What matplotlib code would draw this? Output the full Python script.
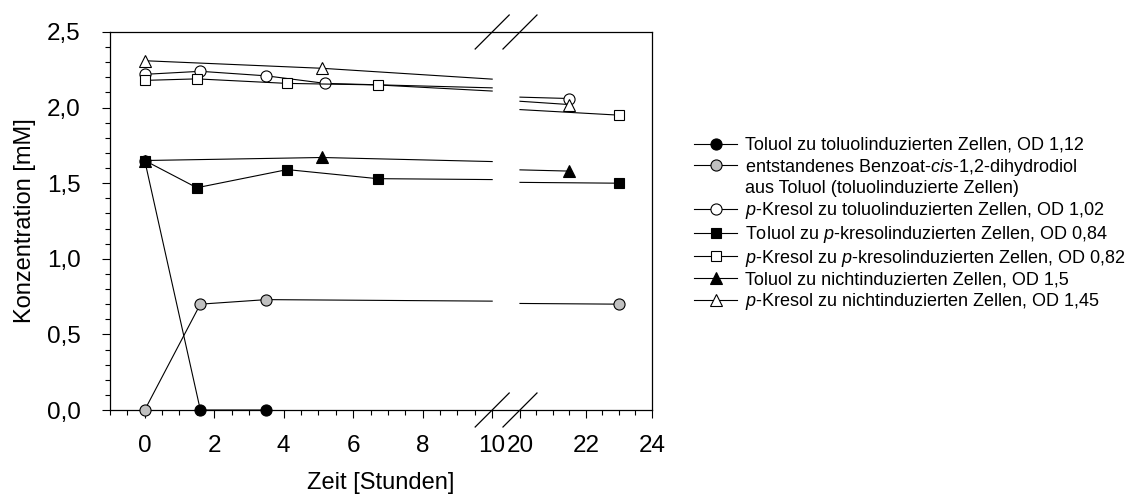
import numpy as np
import matplotlib
matplotlib.use("Agg")
import matplotlib.pyplot as plt
from matplotlib.lines import Line2D
from matplotlib.ticker import FixedLocator, FuncFormatter

plt.rcParams['font.family'] = ['Liberation Sans', 'DejaVu Sans']
plt.rcParams['mathtext.fontset'] = 'custom'
plt.rcParams['mathtext.it'] = 'Liberation Sans:italic'
plt.rcParams['mathtext.rm'] = 'Liberation Sans'

# Messwerte (Zeit in Stunden, Konzentration in mM)
t_tol_tol = [0, 1.6, 3.5]
c_tol_tol = [1.65, 0.0, 0.0]
t_benz = [0, 1.6, 3.5, 23]
c_benz = [0.0, 0.70, 0.73, 0.70]
t_kre_tol = [0, 1.6, 3.5, 5.2, 21.5]
c_kre_tol = [2.22, 2.24, 2.21, 2.16, 2.06]
t_tol_kre = [0, 1.5, 4.1, 6.7, 23]
c_tol_kre = [1.65, 1.47, 1.59, 1.53, 1.50]
t_kre_kre = [0, 1.5, 4.1, 6.7, 23]
c_kre_kre = [2.18, 2.19, 2.16, 2.15, 1.95]
t_tol_non = [0, 5.1, 21.5]
c_tol_non = [1.65, 1.67, 1.58]
t_kre_non = [0, 5.1, 21.5]
c_kre_non = [2.31, 2.26, 2.02]

labels = [
    'Toluol zu toluolinduzierten Zellen, OD 1,12',
    'entstandenes Benzoat-$\\it{cis}$-1,2-dihydrodiol',
    '$\\it{p}$-Kresol zu toluolinduzierten Zellen, OD 1,02',
    'Toluol zu $\\it{p}$-kresolinduzierten Zellen, OD 0,84',
    '$\\it{p}$-Kresol zu $\\it{p}$-kresolinduzierten Zellen, OD 0,82',
    'Toluol zu nichtinduzierten Zellen, OD 1,5',
    '$\\it{p}$-Kresol zu nichtinduzierten Zellen, OD 1,45',
]
label_line2 = 'aus Toluol (toluolinduzierte Zellen)'

x_major = [0, 2, 4, 6, 8, 10, 20, 22, 24]

# Achsenbruch zwischen 10 und 20 h
BRK_LO, BRK_HI = 10.0, 20.0
GAP = 0.8
K = 0.95


def fwd(x):
    x = np.asarray(x, float)
    return np.where(x <= BRK_LO, x,
                    np.where(x >= BRK_HI, BRK_LO + GAP + (x - BRK_HI) * K,
                             BRK_LO + (x - BRK_LO) * GAP / (BRK_HI - BRK_LO)))


def inv(y):
    y = np.asarray(y, float)
    return np.where(y <= BRK_LO, y,
                    np.where(y >= BRK_LO + GAP, BRK_HI + (y - BRK_LO - GAP) / K,
                             BRK_LO + (y - BRK_LO) * (BRK_HI - BRK_LO) / GAP))


def split_at_break(t, c):
    t = np.asarray(t, float)
    c = np.asarray(c, float)
    if t.max() <= BRK_LO:
        return t, c, list(range(len(t)))
    left = t <= BRK_LO
    n = int(left.sum())
    tt = np.concatenate([t[left], [BRK_LO, np.nan, BRK_HI], t[~left]])
    cc = np.concatenate([c[left], [np.interp(BRK_LO, t, c), np.nan,
                                   np.interp(BRK_HI, t, c)], c[~left]])
    idx = list(range(n)) + list(range(n + 3, len(tt)))
    return tt, cc, idx


fig = plt.figure(figsize=(11.39, 5.03), dpi=100)
ax = fig.add_axes([110 / 1139, 93 / 503, 542 / 1139, 378 / 503])
ax.set_xscale('function', functions=(fwd, inv))

series = [
    (t_tol_tol, c_tol_tol, 'o', 'black', 8),
    (t_benz, c_benz, 'o', '#c0c0c0', 8),
    (t_kre_tol, c_kre_tol, 'o', 'white', 8),
    (t_tol_kre, c_tol_kre, 's', 'black', 7),
    (t_kre_kre, c_kre_kre, 's', 'white', 7),
    (t_tol_non, c_tol_non, '^', 'black', 8),
    (t_kre_non, c_kre_non, '^', 'white', 8),
]

handles = []
for t, c, m, fc, ms in series:
    tt, cc, idx = split_at_break(t, c)
    h, = ax.plot(tt, cc, color='black', lw=0.8, marker=m, ms=ms, mfc=fc,
                 mec='black', mew=0.8, markevery=idx, clip_on=False, zorder=3)
    handles.append(h)

ax.set_xlim(-1, 24)
ax.set_ylim(0, 2.5)

ax.xaxis.set_major_locator(FixedLocator(x_major))
minor_x = [v for v in np.concatenate([np.arange(-1, 10.01, 0.5), np.arange(20, 24.01, 0.5)])
           if v not in x_major]
ax.xaxis.set_minor_locator(FixedLocator(minor_x))
ax.xaxis.set_major_formatter(FuncFormatter(lambda v, p: '%d' % round(v)))
ax.yaxis.set_major_locator(FixedLocator(np.arange(0, 2.51, 0.5)))
ax.yaxis.set_minor_locator(FixedLocator(np.arange(0, 2.51, 0.1)))
ax.yaxis.set_major_formatter(FuncFormatter(lambda v, p: ('%.1f' % v).replace('.', ',')))

ax.tick_params(which='major', direction='out', length=6, width=0.8, labelsize=17.5)
ax.tick_params(axis='x', which='major', pad=12)
ax.tick_params(axis='y', which='major', pad=15)
ax.tick_params(which='minor', direction='out', length=3.5, width=0.8)
ax.tick_params(axis='x', which='both', top=False)
ax.tick_params(axis='y', which='both', right=False)
for s in ax.spines.values():
    s.set_linewidth(0.9)

ax.set_xlabel('Zeit [Stunden]', fontsize=17, labelpad=11)
ax.set_ylabel('Konzentration [mM]', fontsize=17, labelpad=8)

# Bruchstriche
lo, hi = float(fwd(-1)), float(fwd(24))
dx, dy = 17 / 542, 17 / 378
for xb in (BRK_LO, BRK_HI):
    xf = (float(fwd(xb)) - lo) / (hi - lo)
    for yf in (0, 1):
        ax.plot([xf - dx, xf + dx], [yf - dy, yf + dy], color='black', lw=0.9,
                transform=ax.transAxes, clip_on=False, zorder=5)

blank = Line2D([], [], linestyle='none')
leg_handles = handles[:2] + [blank] + handles[2:]
leg_labels = labels[:2] + [label_line2] + labels[2:]
fig.legend(leg_handles, leg_labels, loc='upper left',
           bbox_to_anchor=(694 / 1139, 1 - 137 / 503), frameon=False,
           fontsize=13, handlelength=2.4, handletextpad=0.45,
           labelspacing=0.15, borderpad=0, borderaxespad=0)

fig.savefig('out.png', dpi=100)
